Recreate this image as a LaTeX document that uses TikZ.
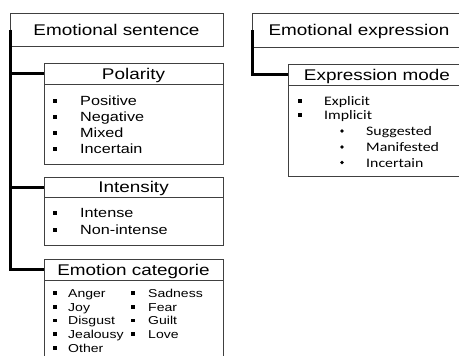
\documentclass[tikz,border=0pt]{standalone}
\usepackage{fontspec}
\setmainfont{Liberation Sans}[FakeStretch=1.22]
\newfontfamily\calib{Carlito}[FakeStretch=1.22]
\definecolor{bordergray}{HTML}{404040}
\tikzset{
  box/.style={draw=bordergray, line width=0.9pt, inner sep=0pt, outer sep=0pt},
  hdr/.style={box, font=\fontsize{15.5}{18}\selectfont, text height=11pt, text depth=0pt},
  conn/.style={draw=black, line width=3pt},
  itemA/.style={anchor=base west, inner sep=0pt, font=\fontsize{13.3}{16}\selectfont},
  itemB/.style={anchor=base west, inner sep=0pt, font=\fontsize{11.5}{14}\selectfont},
  itemC/.style={anchor=base west, inner sep=0pt, font=\calib\fontsize{13}{16}\selectfont},
}
\newcommand{\sqb}[3]{\fill[black] (#1-#3,#2-#3) rectangle (#1+#3,#2+#3);}
\newcommand{\rdb}[2]{\fill[black] (#1,#2) circle (1.8);}
\begin{document}
\begin{tikzpicture}[x=1pt,y=-1pt]
\useasboundingbox (0,0) rectangle (459,356);
\clip (0,0) rectangle (459,356);
\fill[white] (0,0) rectangle (459,356);

% left tree
\node[hdr, minimum width=213pt, minimum height=33pt] (es) at (116.5,29.5) {Emotional sentence};

\node[hdr, minimum width=179pt, minimum height=21pt] (polh) at (133.5,73.5) {Polarity};
\node[box, minimum width=179pt, minimum height=80pt, anchor=north] (polb) at (polh.south) {};

\node[hdr, minimum width=179pt, minimum height=20pt] (inth) at (133.5,187) {Intensity};
\node[box, minimum width=179pt, minimum height=48pt, anchor=north] (intb) at (inth.south) {};

\node[hdr, minimum width=179pt, minimum height=21pt] (emoh) at (133.5,269.5) {Emotion categorie};
\node[box, minimum width=179pt, minimum height=100pt, anchor=north] (emob) at (emoh.south) {};

\draw[conn] (es.west) |- (emoh.west);
\draw[conn] (es.west |- polh.west) -- (polh.west);
\draw[conn] (es.west |- inth.west) -- (inth.west);

% polarity items
\sqb{55}{101}{1.9} \node[itemA] (p1) at (80,105.8) {Positive};
\sqb{55}{117}{1.9} \node[itemA] (p2) at (80,121.8) {Negative};
\sqb{55}{133}{1.9} \node[itemA] (p3) at (80,137.8) {Mixed};
\sqb{55}{149}{1.9} \node[itemA] (p4) at (80,153.8) {Incertain};

% intensity items
\sqb{55}{213}{1.9} \node[itemA] (i1) at (80,217.8) {Intense};
\sqb{55}{230}{1.9} \node[itemA] (i2) at (80,234.8) {Non-intense};

% emotion items
\sqb{55}{293}{1.6} \node[itemB] (e1) at (68,297.1) {Anger};
\sqb{55}{307}{1.6} \node[itemB] (e2) at (68,311.1) {Joy};
\sqb{55}{320.5}{1.6} \node[itemB] (e3) at (68,324.6) {Disgust};
\sqb{55}{334}{1.6} \node[itemB] (e4) at (68,338.1) {Jealousy};
\sqb{55}{348}{1.6} \node[itemB] (e5) at (68,352.1) {Other};
\sqb{133}{293}{1.6} \node[itemB] (e6) at (148,297.1) {Sadness};
\sqb{133}{307}{1.6} \node[itemB] (e7) at (148,311.1) {Fear};
\sqb{133}{320.5}{1.6} \node[itemB] (e8) at (148,324.6) {Guilt};
\sqb{133}{334}{1.6} \node[itemB] (e9) at (148,338.1) {Love};

% right tree
\node[hdr, minimum width=214pt, minimum height=34pt] (ee) at (359,30) {Emotional expression};
\node[hdr, minimum width=178pt, minimum height=21pt] (emh) at (377,74.5) {Expression mode};
\node[box, minimum width=178pt, minimum height=91pt, anchor=north] (emb) at (emh.south) {};
\draw[conn] (ee.west) |- (emh.west);

\sqb{300}{100.5}{2} \node[itemC] (x1) at (324,105) {Explicit};
\sqb{300}{115}{2} \node[itemC] (x2) at (324,119.5) {Implicit};
\rdb{342}{131} \node[itemC] (x3) at (366,135.5) {Suggested};
\rdb{342}{147} \node[itemC] (x4) at (366,151.5) {Manifested};
\rdb{342}{162.5} \node[itemC] (x5) at (366,167) {Incertain};
\end{tikzpicture}
\end{document}
